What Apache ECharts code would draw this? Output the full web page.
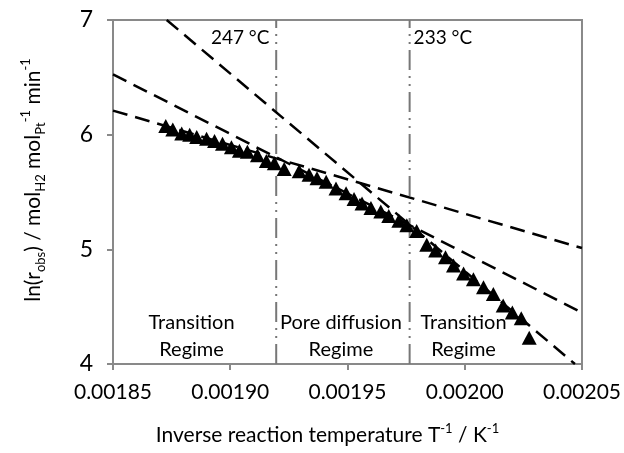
<!DOCTYPE html>
<html><head><meta charset="utf-8">
<script src="https://cdn.jsdelivr.net/npm/echarts@6/dist/echarts.min.js"></script>
<style>html,body{margin:0;padding:0;background:#fff}#c{width:624px;height:453px}</style>
</head><body><div id="c"></div>
<script>
// measured data: inverse temperature (1/K) vs ln(r_obs)
const invT = [0.0018725,0.0018755,0.0018793,0.0018827,0.0018857,0.0018899,0.0018933,0.0018967,0.0019005,0.0019039,
  0.0019073,0.0019116,0.0019154,0.0019188,0.0019230,0.0019294,0.0019336,0.0019370,0.0019409,0.0019451,
  0.0019494,0.0019528,0.0019562,0.0019600,0.0019642,0.0019676,0.0019719,0.0019753,0.0019795,0.0019838,
  0.0019876,0.0019918,0.0019952,0.0019995,0.0020037,0.0020080,0.0020122,0.0020164,0.0020203,0.0020241,0.0020275];
const lnR = [6.075,6.045,6.01,6.00,5.98,5.965,5.945,5.92,5.89,5.86,
  5.85,5.82,5.77,5.75,5.70,5.68,5.65,5.62,5.59,5.53,
  5.49,5.44,5.40,5.36,5.33,5.29,5.25,5.21,5.16,5.04,
  4.99,4.93,4.86,4.79,4.74,4.67,4.61,4.51,4.45,4.40,4.23];
// fitted dashed lines (endpoints)
const fitAX = [0.0018729, 0.002047], fitAY = [7, 4];
const fitBX = [0.00185, 0.00205], fitBY = [6.526, 4.448];
const fitCX = [0.00185, 0.00205], fitCY = [6.21, 5.011];
// regime boundaries
const boundX = [0.0019196, 0.0019765];
const boundY = [4, 7];
// annotations
const tempLabels = ['247 °C', '233 °C'];
const tempLabelX = [0.0019167, 0.0019782];
const tempLabelY = [6.844, 6.844];
const regimeLabels = ['Transition\nRegime', 'Pore diffusion\nRegime', 'Transition\nRegime'];
const regimeX = [0.0018835, 0.0019472, 0.0019995];
const regimeY = [4.24, 4.24, 4.24];
const yTicks = [4, 5, 6, 7];
const xTicks = [0.00185, 0.00190, 0.00195, 0.00200, 0.00205];

const FONT = 'Lato';
const pair = (xs, ys) => xs.map((x, i) => [x, ys[i]]);
const dashed = { color: '#000', width: 2.5, type: [15, 8] };
const vline = { color: '#777', width: 2, type: [20, 6, 2, 6, 2, 6] };
const txt = { color: '#000', fontFamily: FONT, textBorderWidth: 0, opacity: 1 };

const chart = echarts.init(document.getElementById('c'), null, { renderer: 'canvas' });
chart.setOption({
  animation: false,
  textStyle: { fontFamily: FONT },
  grid: { left: 113, right: 40, top: 20, bottom: 86, show: true, borderColor: '#898989', borderWidth: 2, backgroundColor: 'transparent' },
  xAxis: {
    type: 'value', min: xTicks[0], max: xTicks[xTicks.length - 1], interval: 0.00005,
    axisLine: { show: true, lineStyle: { color: '#898989', width: 2 } },
    axisTick: { show: true, inside: false, length: 6, lineStyle: { color: '#898989', width: 2 } },
    splitLine: { show: false },
    axisLabel: { color: '#000', fontSize: 21, fontFamily: FONT, margin: 18, formatter: v => v.toFixed(5) },
    name: 'Inverse reaction temperature T{sup|-1} / K{sup|-1}',
    nameLocation: 'middle', nameGap: 58,
    nameTextStyle: { color: '#000', fontSize: 21, fontFamily: FONT, padding: [0, 40, 0, 0], lineHeight: 26,
      rich: { sup: { fontSize: 13, fontFamily: FONT, color: '#000', verticalAlign: 'top', lineHeight: 13 } } }
  },
  yAxis: {
    type: 'value', min: yTicks[0], max: yTicks[yTicks.length - 1], interval: 1,
    axisLine: { show: true, lineStyle: { color: '#898989', width: 2 } },
    axisTick: { show: true, inside: false, length: 6, lineStyle: { color: '#898989', width: 2 } },
    splitLine: { show: false },
    axisLabel: { color: '#000', fontSize: 23, fontFamily: FONT, margin: 20 },
    name: 'ln(r{sub|obs}) / mol{sub|H2} mol{sub|Pt}{sup|-1} min{sup|-1}',
    nameLocation: 'middle', nameGap: 66, nameRotate: 90,
    nameTextStyle: { color: '#000', fontSize: 21, fontFamily: FONT, lineHeight: 28, padding: [0, 0, 0, 24],
      rich: {
        sub: { fontSize: 13, fontFamily: FONT, color: '#000', verticalAlign: 'bottom', lineHeight: 13 },
        sup: { fontSize: 13, fontFamily: FONT, color: '#000', verticalAlign: 'top', lineHeight: 13 }
      } }
  },
  series: [
    { type: 'line', data: pair(boundX.slice(0,1).concat(boundX.slice(0,1)), boundY), symbol: 'none', lineStyle: vline, z: 1 },
    { type: 'line', data: pair(boundX.slice(1).concat(boundX.slice(1)), boundY), symbol: 'none', lineStyle: vline, z: 1 },
    { type: 'scatter', data: pair(invT, lnR), symbol: 'triangle', symbolSize: [15, 14], itemStyle: { color: '#000', opacity: 1 }, z: 2 },
    { type: 'line', data: pair(fitAX, fitAY), symbol: 'none', lineStyle: dashed, z: 3 },
    { type: 'line', data: pair(fitBX, fitBY), symbol: 'none', lineStyle: dashed, z: 3 },
    { type: 'line', data: pair(fitCX, fitCY), symbol: 'none', lineStyle: dashed, z: 3 },
    { type: 'scatter', symbolSize: 0, z: 4, silent: true, itemStyle: { opacity: 1 },
      data: tempLabels.map((t, i) => ({ value: [tempLabelX[i], tempLabelY[i]], name: t,
        label: Object.assign({ show: true, position: 'inside', align: i === 0 ? 'right' : 'left', verticalAlign: 'middle',
          formatter: t, fontSize: 19 }, txt) })) },
    { type: 'scatter', symbolSize: 0, z: 4, silent: true, itemStyle: { opacity: 1 },
      data: regimeLabels.map((t, i) => ({ value: [regimeX[i], regimeY[i]], name: t,
        label: Object.assign({ show: true, position: 'inside', align: 'center', verticalAlign: 'middle',
          formatter: t, fontSize: 20, lineHeight: 27 }, txt) })) }
  ]
});
</script></body></html>
